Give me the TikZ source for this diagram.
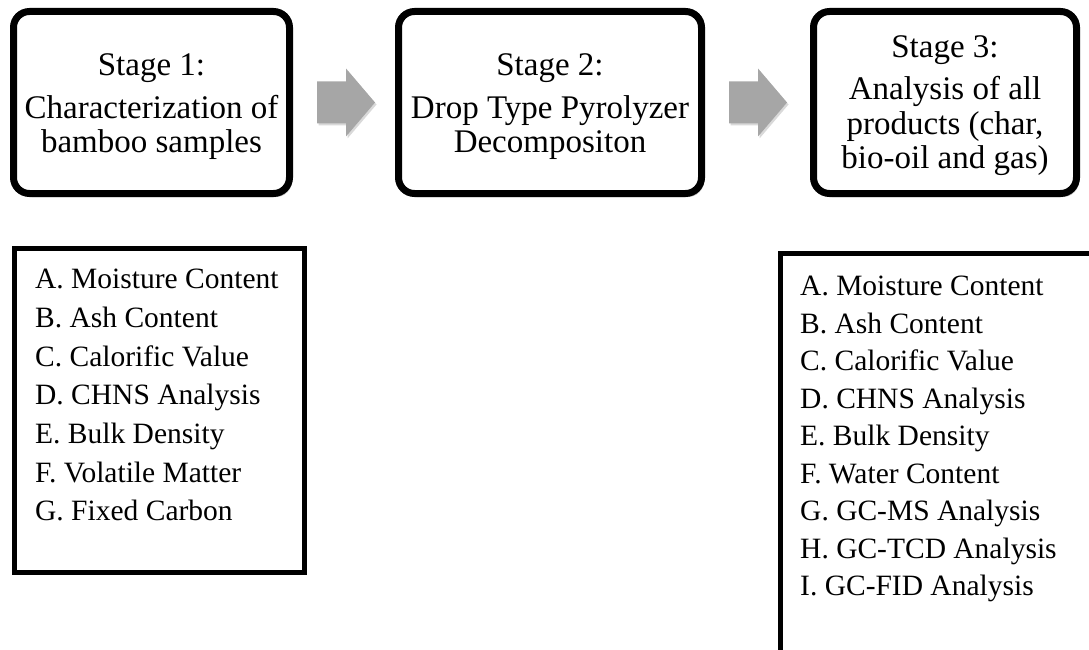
\documentclass[tikz,border=0pt]{standalone}
\usepackage{fontspec}
\setmainfont{Liberation Serif}
\usetikzlibrary{shadows,calc}
\begin{document}
\begin{tikzpicture}[x=1pt,y=-1pt,
  stagebox/.style={draw=black, line width=7pt, rounded corners=16pt, fill=white,
    inner sep=0pt,
    drop shadow={shadow xshift=2.5pt, shadow yshift=-3.5pt, opacity=0.35, fill=black!70}},
  stagetext/.style={align=center, inner sep=0pt, font=\fontsize{33}{34.5}\selectfont},
  listbox/.style={draw=black, line width=5pt, fill=white, inner sep=0pt},
  listtext/.style={align=left, inner sep=0pt, anchor=north west},
  arrowfill/.style={fill=black!35, drop shadow={shadow xshift=1.5pt, shadow yshift=-2pt, opacity=0.25, fill=black!60}},
  blockarrow/.pic={\path[arrowfill] (0,-21) -- (29,-21) -- (29,-34) -- (58,0) -- (29,34) -- (29,21) -- (0,21) -- cycle;}
]
\useasboundingbox (0,0) rectangle (1089,650);
\clip (0,0) rectangle (1089,650);

% stage boxes
\node[stagebox, minimum width=276pt, minimum height=182pt] (s1) at (151.5,102.5) {};
\node[stagetext] (s1t) at ($(s1.center)+(0,4.5)$)
  {Stage 1:\\[8pt]Characterization of\\bamboo samples};
\node[stagebox, minimum width=303pt, minimum height=182pt] (s2) at (550,102.5) {};
\node[stagetext] (s2t) at ($(s2.center)+(0,4.5)$)
  {Stage 2:\\[8pt]Drop Type Pyrolyzer\\Decompositon};
\node[stagebox, minimum width=263pt, minimum height=182pt] (s3) at (945,102.5) {};
\node[stagetext] (s3t) at ($(s3.center)+(0,3)$)
  {Stage 3:\\[8pt]Analysis of all\\products (char,\\bio-oil and gas)};

% block arrows between stages
\coordinate (a1) at ($(s1.east)+(24,0)$);
\coordinate (a2) at ($(s2.east)+(24,0)$);
\pic at (a1) {blockarrow};
\pic at (a2) {blockarrow};

% list boxes
\node[listbox, minimum width=290pt, minimum height=324pt] (L) at (159.5,410.5) {};
\node[listtext, font=\fontsize{29.5}{38.7}\selectfont] (Lt) at ($(L.north west)+(23,23)$)
  {A. Moisture Content\\B. Ash Content\\C. Calorific Value\\D. CHNS Analysis\\E. Bulk Density\\F. Volatile Matter\\G. Fixed Carbon};

\node[listbox, minimum width=317pt, minimum height=414pt] (R) at (939,460.5) {};
\node[listtext, font=\fontsize{29.5}{37.5}\selectfont] (Rt) at ($(R.north west)+(22,25)$)
  {A. Moisture Content\\B. Ash Content\\C. Calorific Value\\D. CHNS Analysis\\E. Bulk Density\\F. Water Content\\G. GC-MS Analysis\\H. GC-TCD Analysis\\I. GC-FID Analysis};
\end{tikzpicture}
\end{document}
